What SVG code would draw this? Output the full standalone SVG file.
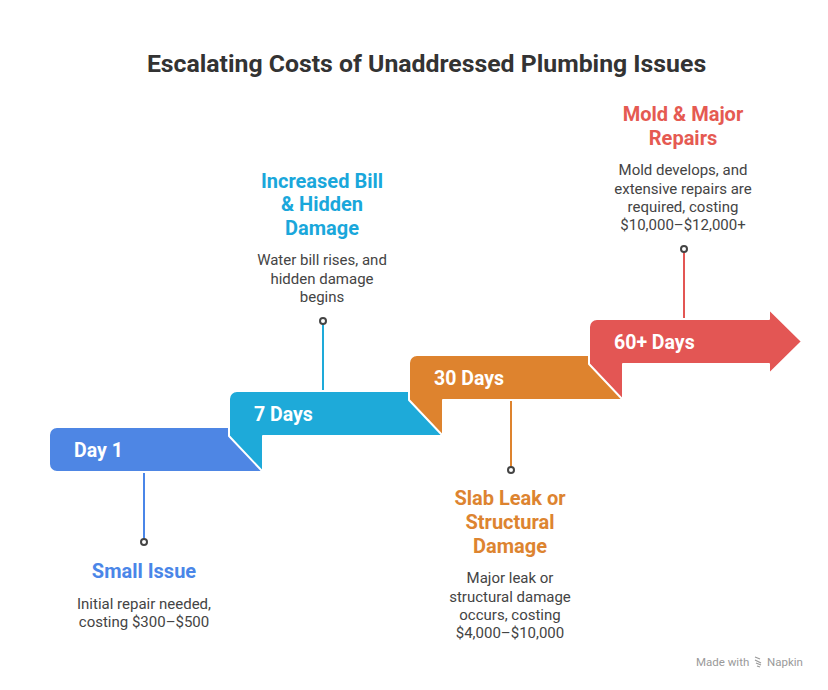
<svg xmlns="http://www.w3.org/2000/svg" width="828" height="690" viewBox="0 0 828 690">
<style>
.band{stroke:#fff;stroke-width:2;stroke-linejoin:round}
.bl{font-family:Roboto,"Liberation Sans",sans-serif;font-weight:700;font-size:19.5px;fill:#fff}
.hd{font-family:Roboto,"Liberation Sans",sans-serif;font-weight:700;font-size:20px;text-anchor:middle}
.tx{font-family:Roboto,"Liberation Sans",sans-serif;font-size:15px;fill:#444;text-anchor:middle}
.dot{fill:#fff;stroke:#444;stroke-width:2}
.ln{stroke-width:2;fill:none}
</style>
<rect width="828" height="690" fill="#fff"/>
<text x="426.5" y="72" font-family="Roboto,'Liberation Sans',sans-serif" font-weight="700" font-size="24.8" fill="#333" text-anchor="middle">Escalating Costs of Unaddressed Plumbing Issues</text>

<g id="connectors">
<line class="ln" x1="144" y1="472" x2="144" y2="539" stroke="#4A86E8"/>
<line class="ln" x1="323" y1="391" x2="323" y2="324" stroke="#1EAAD9"/>
<line class="ln" x1="511" y1="400" x2="511" y2="467" stroke="#DE832E"/>
<line class="ln" x1="684" y1="319" x2="684" y2="252" stroke="#E35654"/>
<circle class="dot" cx="144" cy="542" r="3"/>
<circle class="dot" cx="323" cy="321" r="3"/>
<circle class="dot" cx="511" cy="470" r="3"/>
<circle class="dot" cx="684" cy="249" r="3"/>
</g>

<g id="day1">
<path class="band" fill="#4E86E4" d="M49,435 a8,8 0 0 1 8,-8 H263 V472 H57 a8,8 0 0 1 -8,-8 Z"/>
<text class="bl" x="74" y="457">Day 1</text>
<text class="hd" x="144" y="578" fill="#4A86E8">Small Issue</text>
<text class="tx" x="144" y="609">Initial repair needed,</text>
<text class="tx" x="144" y="627">costing $300–$500</text>
</g>

<g id="day7">
<path class="band" fill="#1EAAD9" d="M229,399 a8,8 0 0 1 8,-8 H443 V436 H263 V472 L229,436 Z"/>
<text class="bl" x="254" y="421">7 Days</text>
<text class="hd" x="322" y="188" fill="#1AA7DB">Increased Bill</text>
<text class="hd" x="322" y="211" fill="#1AA7DB">&amp; Hidden</text>
<text class="hd" x="322" y="235" fill="#1AA7DB">Damage</text>
<text class="tx" x="322" y="265">Water bill rises, and</text>
<text class="tx" x="322" y="284">hidden damage</text>
<text class="tx" x="322" y="302">begins</text>
</g>

<g id="day30">
<path class="band" fill="#DE832E" d="M409,363 a8,8 0 0 1 8,-8 H623 V400 H443 V436 L409,400 Z"/>
<text class="bl" x="434" y="385">30 Days</text>
<text class="hd" x="510" y="505" fill="#DD8430">Slab Leak or</text>
<text class="hd" x="510" y="529" fill="#DD8430">Structural</text>
<text class="hd" x="510" y="553" fill="#DD8430">Damage</text>
<text class="tx" x="510" y="583">Major leak or</text>
<text class="tx" x="510" y="602">structural damage</text>
<text class="tx" x="510" y="620">occurs, costing</text>
<text class="tx" x="510" y="638">$4,000–$10,000</text>
</g>

<g id="day60">
<path class="band" fill="#E35654" d="M589,327 a8,8 0 0 1 8,-8 H769 V309 L802,341.5 L769,374 V364 H623 V400 L589,364 Z"/>
<text class="bl" x="614" y="349">60+ Days</text>
<text class="hd" x="683" y="121" fill="#E55A52">Mold &amp; Major</text>
<text class="hd" x="683" y="145" fill="#E55A52">Repairs</text>
<text class="tx" x="683" y="175">Mold develops, and</text>
<text class="tx" x="683" y="194">extensive repairs are</text>
<text class="tx" x="683" y="212">required, costing</text>
<text class="tx" x="683" y="230">$10,000–$12,000+</text>
</g>

<g id="footer" fill="#9a9a9a" font-family="Roboto,'Liberation Sans',sans-serif" font-size="11.5">
<text x="696" y="666">Made with</text>
<path d="M755,657 l5,2 M755,660 l6,3 M756,663 l5,2 M757,666 l3,1" stroke="#9a9a9a" stroke-width="1.3" fill="none"/>
<text x="767" y="666">Napkin</text>
</g>
</svg>
